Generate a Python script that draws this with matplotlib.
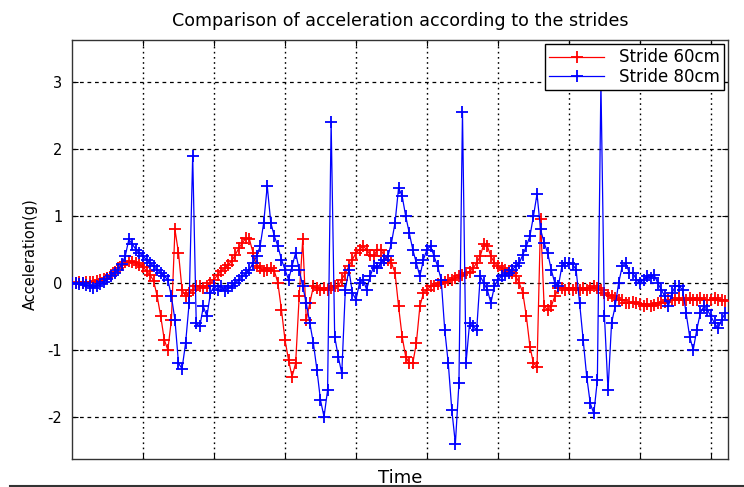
import numpy as np
import matplotlib
matplotlib.use("Agg")
import matplotlib.pyplot as plt
from matplotlib.lines import Line2D

plt.rcParams['font.family'] = ['DejaVu Sans']

# sample time axis (samples 0..920, every 5)
time = np.arange(0, 921, 5)

stride_60 = [
    0.0, 0.0, 0.01, 0.0, 0.02, 0.01, 0.02, 0.03, 0.04, 0.06,
    0.08, 0.12, 0.17, 0.22, 0.27, 0.31, 0.33, 0.32, 0.30, 0.27,
    0.24, 0.18, 0.12, 0.03, -0.2, -0.5, -0.85, -1.0, -0.55, 0.8,
    0.45, -0.1, -0.2, -0.15, -0.1, -0.05, -0.05, -0.08, -0.05, 0.0,
    0.05, 0.12, 0.18, 0.22, 0.27, 0.33, 0.42, 0.52, 0.60, 0.67,
    0.65, 0.45, 0.25, 0.22, 0.18, 0.20, 0.22, 0.18, 0.0, -0.4,
    -0.85, -1.15, -1.4, -1.2, -0.2, 0.65, -0.55, -0.3, -0.05, -0.08,
    -0.1, -0.08, -0.1, -0.07, -0.05, -0.05, 0.05, 0.15, 0.25, 0.35,
    0.45, 0.50, 0.55, 0.50, 0.42, 0.40, 0.50, 0.50, 0.40, 0.35,
    0.30, 0.15, -0.35, -0.8, -1.1, -1.2, -1.2, -0.9, -0.35, -0.15,
    -0.1, -0.05, -0.05, -0.02, 0.0, 0.02, 0.05, 0.05, 0.07, 0.10,
    0.12, 0.15, 0.17, 0.22, 0.30, 0.40, 0.58, 0.55, 0.40, 0.30,
    0.25, 0.22, 0.20, 0.18, 0.15, 0.10, 0.0, -0.15, -0.5, -0.95,
    -1.2, -1.25, 0.95, -0.35, -0.4, -0.35, -0.2, -0.08, -0.08, -0.1,
    -0.08, -0.1, -0.08, -0.1, -0.08, -0.1, -0.07, -0.05, -0.08, -0.1,
    -0.15, -0.18, -0.2, -0.22, -0.25, -0.25, -0.3, -0.3, -0.28, -0.3,
    -0.32, -0.35, -0.32, -0.35, -0.33, -0.3, -0.3, -0.28, -0.25, -0.25,
    -0.25, -0.22, -0.25, -0.25, -0.22, -0.25, -0.25, -0.22, -0.25, -0.25,
    -0.25, -0.22, -0.25, -0.25, -0.27,
]

stride_80 = [
    0.0, 0.0, -0.02, 0.0, -0.03, -0.05, -0.07, -0.05, -0.02, 0.02,
    0.06, 0.10, 0.15, 0.20, 0.28, 0.40, 0.65, 0.58, 0.50, 0.45,
    0.40, 0.35, 0.30, 0.25, 0.20, 0.15, 0.10, 0.05, -0.2, -0.55,
    -1.2, -1.28, -0.9, -0.3, 1.9, -0.6, -0.65, -0.35, -0.5, -0.15,
    -0.05, -0.1, -0.05, -0.12, -0.08, -0.05, 0.0, 0.05, 0.10, 0.15,
    0.20, 0.30, 0.40, 0.55, 0.90, 1.45, 0.90, 0.70, 0.55, 0.35,
    0.20, 0.05, 0.25, 0.45, 0.20, -0.05, -0.3, -0.6, -0.9, -1.3,
    -1.75, -2.0, -1.6, 2.4, -0.8, -1.1, -1.35, -0.1, 0.20, -0.15,
    -0.25, 0.0, 0.05, -0.1, 0.10, 0.25, 0.22, 0.30, 0.35, 0.40,
    0.60, 0.90, 1.42, 1.30, 1.00, 0.75, 0.50, 0.30, 0.10, 0.35,
    0.50, 0.55, 0.40, 0.25, 0.05, -0.7, -1.2, -1.9, -2.4, -1.5,
    2.55, -1.2, -0.6, -0.65, -0.7, 0.10, 0.0, -0.1, -0.3, -0.05,
    0.05, 0.10, 0.12, 0.15, 0.20, 0.25, 0.30, 0.42, 0.55, 0.70,
    1.00, 1.33, 0.80, 0.60, 0.45, 0.20, 0.0, -0.05, 0.25, 0.30,
    0.30, 0.28, 0.20, -0.3, -0.85, -1.4, -1.8, -1.95, -1.45, 3.0,
    -0.5, -1.6, -0.6, -0.35, 0.0, 0.25, 0.30, 0.15, 0.15, 0.05,
    0.0, 0.05, 0.10, 0.08, 0.12, 0.0, -0.1, -0.2, -0.35, -0.15,
    -0.05, -0.05, -0.1, -0.45, -0.8, -1.0, -0.7, -0.45, -0.35, -0.4,
    -0.5, -0.6, -0.68, -0.55, -0.45,
]

ytick_vals = [-2, -1, 0, 1, 2, 3]
xtick_vals = [100, 200, 300, 400, 500, 600, 700, 800, 900]
labels = ['Stride 60cm', 'Stride 80cm']

fig = plt.figure(figsize=(7.44, 4.87), dpi=100)
ax = fig.add_axes([72/744, 1 - 459/487, 656/744, 419/487])

ax.plot(time, stride_60, color=(1, 0, 0), lw=0.9, marker='+', ms=8, mew=1.3,
        label=labels[0], zorder=3)
ax.plot(time, stride_80, color=(0, 0, 1), lw=0.9, marker='+', ms=8, mew=1.3,
        label=labels[1], zorder=4)

ax.set_xlim(0, 924)
ax.set_ylim(-2.63, 3.63)
ax.set_xticks(xtick_vals)
ax.set_xticklabels([])
ax.set_yticks(ytick_vals)
ax.set_yticklabels([str(v) for v in ytick_vals], fontsize=10.5)
ax.tick_params(direction='in', top=True, right=True, length=4, width=0.8, pad=7)

ax.xaxis.grid(True, color='k', linestyle=(0, (1.2, 2.5)), lw=1.0)
ax.yaxis.grid(True, color='k', linestyle=(0, (3, 3)), lw=0.9)
for s in ax.spines.values():
    s.set_linewidth(1.0)
    s.set_color('#333333')

ax.set_title('Comparison of acceleration according to the strides', fontsize=12.6,
             pad=0, y=1.033)
ax.set_xlabel('Time', fontsize=13)
ax.xaxis.set_label_coords(0.5, -0.024)
ax.set_ylabel('Acceleration(g)', fontsize=10.5)
ax.yaxis.set_label_coords(-0.052, 0.49)

leg = ax.legend(loc='upper right', bbox_to_anchor=(0.994, 0.99), borderaxespad=0,
                fontsize=12, fancybox=False, framealpha=1, edgecolor='k',
                handlelength=3.3, handletextpad=0.9, borderpad=0.25,
                labelspacing=0.1)
leg.get_frame().set_linewidth(1.0)

fig.add_artist(Line2D([10/744, 1], [1 - 486/487, 1 - 486/487], color='#333333', lw=1.5))

fig.savefig('out.png', dpi=100)
